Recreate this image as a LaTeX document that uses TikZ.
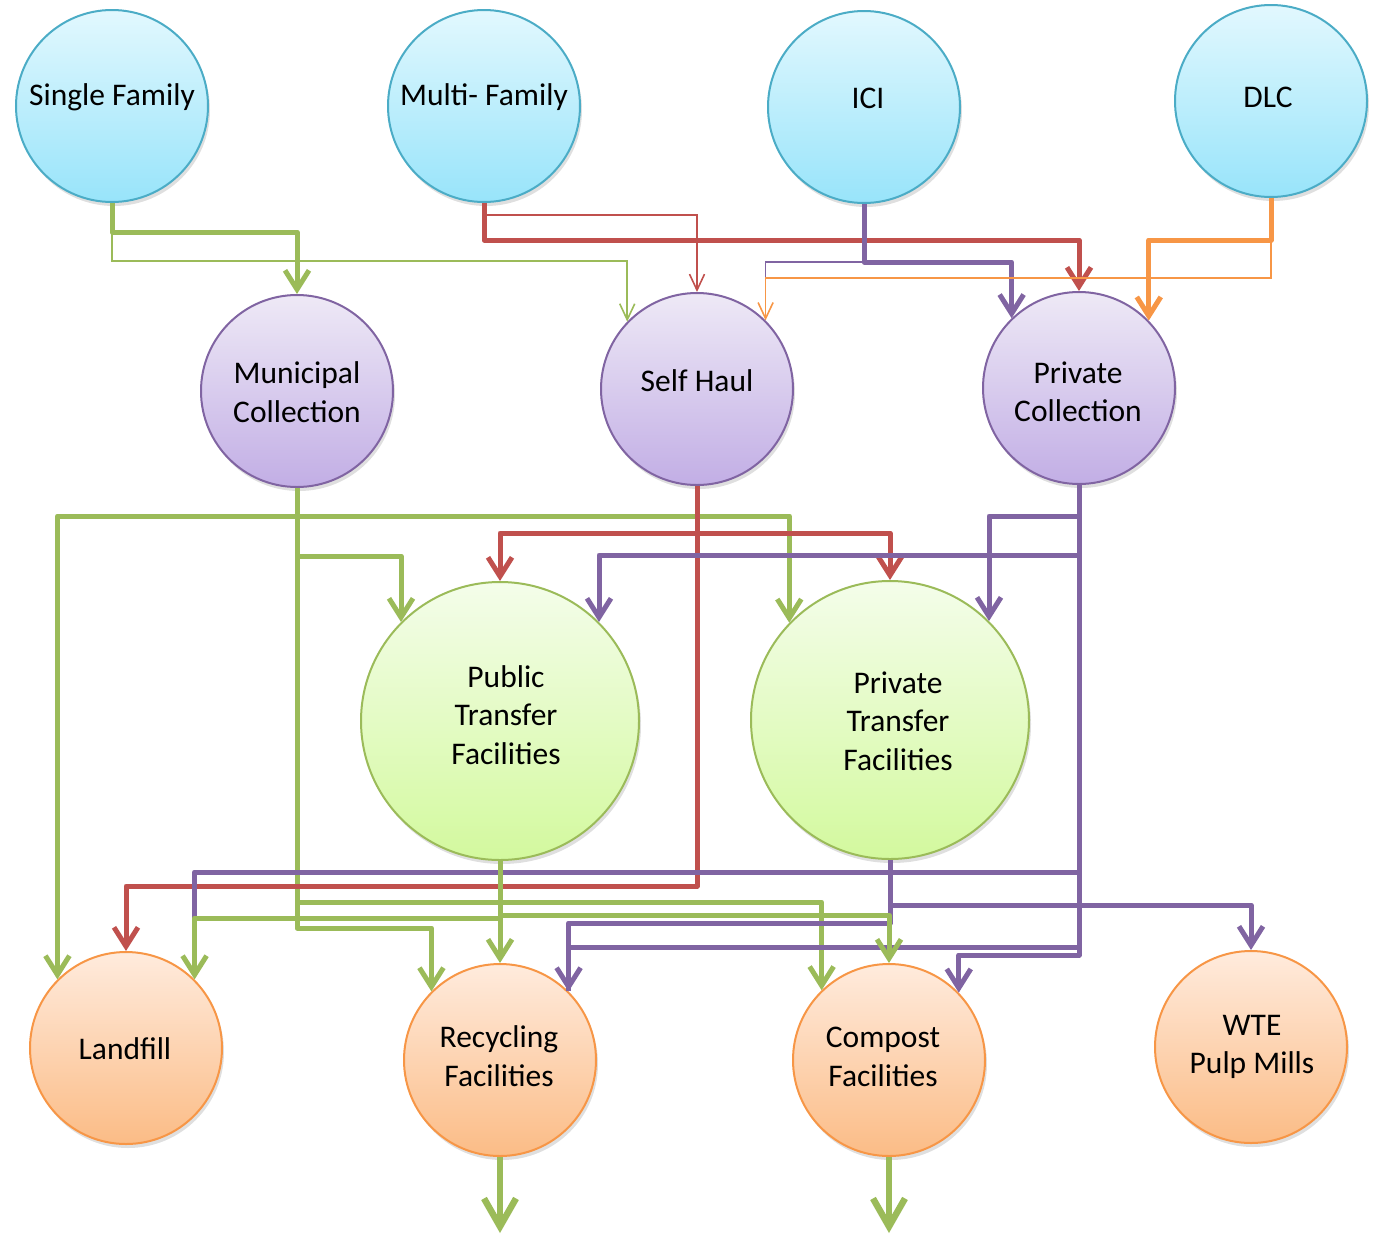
\documentclass[tikz,border=0pt]{standalone}
\usepackage{fontspec}
\setmainfont{Carlito}
\usetikzlibrary{arrows.meta,shadows}
\definecolor{lnG}{HTML}{9BBB59}
\definecolor{lnR}{HTML}{C0504D}
\definecolor{lnP}{HTML}{8064A2}
\definecolor{lnO}{HTML}{F79646}
\definecolor{bdB}{HTML}{4BACC6}
\definecolor{fBt}{HTML}{E2F8FE}
\definecolor{fBb}{HTML}{98E4FA}
\definecolor{fPt}{HTML}{EEE9F6}
\definecolor{fPb}{HTML}{C2AEE5}
\definecolor{fGt}{HTML}{F4FDEA}
\definecolor{fGb}{HTML}{D3F99E}
\definecolor{fOt}{HTML}{FFEBDD}
\definecolor{fOb}{HTML}{FBBC86}
\tikzset{
  bub/.style={circle, line width=2pt, inner sep=0pt, minimum size=192pt,
    drop shadow={shadow xshift=2pt, shadow yshift=-4pt, opacity=0.25}},
  bigbub/.style={bub, minimum size=278pt},
  srcB/.style={bub, draw=bdB, top color=fBt, bottom color=fBb},
  colP/.style={bub, draw=lnP, top color=fPt, bottom color=fPb},
  trfG/.style={bigbub, draw=lnG, top color=fGt, bottom color=fGb},
  dstO/.style={bub, draw=lnO, top color=fOt, bottom color=fOb},
  lbl/.style={font=\fontsize{31.5}{38.5}\selectfont, align=center, inner sep=0pt},
  thk/.style={line width=5pt, line join=round},
  thn/.style={line width=1.6pt},
  thkA/.style={thk, -{Straight Barb[length=19pt,width=24pt]}},
  thnA/.style={thn, -{Straight Barb[length=16pt,width=15pt]}},
  outA/.style={line width=6.5pt, -{Straight Barb[length=28pt,width=32pt]}},
}
\begin{document}
\begin{tikzpicture}[x=1pt, y=-1pt]
\useasboundingbox (0,0) rectangle (1374,1235);

% circles
\node[srcB] (sf)  at (112,106) {};
\node[srcB] (mf)  at (484,106) {};
\node[srcB] (ici) at (864,107) {};
\node[srcB] (dlc) at (1271,101) {};
\node[colP] (mun) at (297,391) {};
\node[colP] (sh)  at (697,389) {};
\node[colP] (pc)  at (1079,388) {};
\node[trfG] (pubtf) at (500,721) {};
\node[trfG] (prtf)  at (890,720) {};
\node[dstO] (lf)  at (126,1048) {};
\node[dstO] (rec) at (500,1060) {};
\node[dstO] (co)  at (889,1060) {};
\node[dstO] (wte) at (1251,1047) {};

% labels
\node[lbl] (tsf)  at (112,97)  {Single Family};
\node[lbl] (tmf)  at (484,97)  {Multi- Family};
\node[lbl] (tici) at (868,98)  {ICI};
\node[lbl] (tdlc) at (1268,97) {DLC};
\node[lbl] (tmun) at (297,392) {Municipal\\Collection};
\node[lbl] (tsh)  at (697,381) {Self Haul};
\node[lbl] (tpc)  at (1078,392) {Private\\Collection};
\node[lbl] (tpub) at (506,715) {Public\\Transfer\\Facilities};
\node[lbl] (tprt) at (898,721) {Private\\Transfer\\Facilities};
\node[lbl] (tlf)  at (125,1049) {Landfill};
\node[lbl] (trec) at (499,1056) {Recycling\\Facilities};
\node[lbl] (tco)  at (883,1057) {Compost\\Facilities};
\node[lbl] (twte) at (1252,1047) {WTE\\Pulp Mills};

% ---------- top connectors ----------
\draw[thnA, lnG] (sf.south) -- (sf.south |- 0,261) -| (sh.136);
\draw[thkA, lnG] (sf.south) -- (sf.south |- 0,232) -| (mun.north);
\draw[thnA, lnR] (mf.south) -- (mf.south |- 0,215) -| (sh.north);
\draw[thkA, lnR] (mf.south) -- (mf.south |- 0,240) -| (pc.north);
\draw[thn, lnP] (ici.south |- 0,262) -| (sh.45);
\draw[thkA, lnP] (ici.south) -- (ici.south |- 0,262) -| (pc.134);
\draw[thnA, lnO] (dlc.south |- 0,240) -- (dlc.south |- 0,278) -| (sh.45);
\draw[thkA, lnO] (dlc.south) -- (dlc.south |- 0,240) -| (pc.44);

% ---------- Municipal Collection ----------
\draw[thkA, lnG] (mun.south) -- (mun.south |- 0,516) -| (lf.135);
\draw[thkA, lnG] (mun.south |- 0,516) -| (prtf.136);
\draw[thkA, lnG] (mun.south) -- (mun.south |- 0,556) -| (pubtf.135);
\draw[thkA, lnG] (mun.south) -- (mun.south |- 0,902) -| (co.134);
\draw[thkA, lnG] (mun.south) -- (mun.south |- 0,928) -| (rec.135);

% ---------- Self Haul ----------
\draw[thkA, lnR] (sh.south) -- (sh.south |- 0,533) -| (pubtf.north);
\draw[thkA, lnR] (sh.south |- 0,533) -| (prtf.north);
\draw[thkA, lnR] (sh.south) -- (sh.south |- 0,886) -| (lf.north);

% ---------- Private Collection ----------
\draw[thkA, lnP] (pc.south) -- (pc.south |- 0,516) -| (prtf.45);
\draw[thkA, lnP] (pc.south) -- (pc.south |- 0,555) -| (pubtf.45);
\coordinate (lfjoin) at (lf.45 |- 0,918);
\draw[thk, lnP] (pc.south) -- (pc.south |- 0,872) -| (lfjoin);
\draw[thk, lnP] (pc.south) -- (pc.south |- 0,947) -| (rec.45);
\draw[thkA, lnP] (pc.south) -- (pc.south |- 0,955) -| (co.44);

% ---------- Private Transfer ----------
\draw[thkA, lnP] (prtf.south) -- (prtf.south |- 0,923) -| (rec.45);
\draw[thkA, lnP] (prtf.south) -- (prtf.south |- 0,905) -| (wte.north);

% ---------- Public Transfer ----------
\draw[thkA, lnG] (pubtf.south) -- (pubtf.south |- 0,918) -| (lf.45);
\draw[thkA, lnG] (pubtf.south) -- (pubtf.south |- 0,915) -| (co.north);
\draw[thkA, lnG] (pubtf.south) -- (rec.north);

% ---------- outputs ----------
\coordinate (recout) at (500,1233);
\coordinate (coout) at (889,1233);
\draw[outA, lnG] (rec.south) -- (recout);
\draw[outA, lnG] (co.south) -- (coout);
\end{tikzpicture}
\end{document}
